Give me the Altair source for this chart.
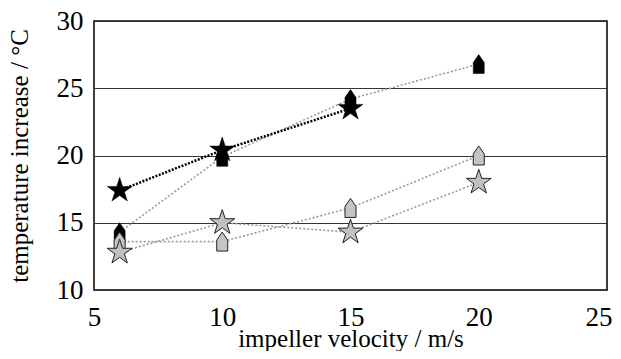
import altair as alt
import pandas as pd

velocity = [6, 10, 15, 20]
black_star = [17.4, 20.4, 23.5]
black_house = [14.3, 19.9, 24.2, 26.8]
gray_house = [13.6, 13.6, 16.1, 20.0]
gray_star = [12.8, 15.0, 14.3, 18.0]

x_ticks = [5, 10, 15, 20, 25]
y_ticks = [10, 15, 20, 25, 30]

STAR = ("M0,-1L0.2245,-0.309L0.951,-0.309L0.363,0.118L0.588,0.809L0,0.382"
        "L-0.588,0.809L-0.363,0.118L-0.951,-0.309L-0.2245,-0.309Z")
HOUSE = "M-0.58,1L0.58,1L0.58,-0.15L0,-1L-0.58,-0.15Z"

FONT = "Liberation Serif"


def frame(vals):
    return pd.DataFrame({"v": velocity[:len(vals)], "t": vals})


x_enc = alt.X(
    "v:Q",
    scale=alt.Scale(domain=[5, 25], nice=False, zero=False),
    axis=alt.Axis(
        values=x_ticks, title="impeller velocity / m/s", grid=False, ticks=False,
        tickSize=0, domain=False, labelPadding=14, titleY=36,
        labelFlush=False,
        labelAlign=alt.ExprRef(expr="datum.value == 25 ? 'right' : 'center'"),
        labelOffset=alt.ExprRef(expr="datum.value == 25 ? 5 : 0"),
        labelFont=FONT, titleFont=FONT, labelFontSize=27, titleFontSize=25,
        titleFontWeight="normal", labelColor="black", titleColor="black",
    ),
)
y_enc = alt.Y(
    "t:Q",
    scale=alt.Scale(domain=[10, 30], nice=False, zero=False),
    axis=alt.Axis(
        values=y_ticks, title="temperature increase / °C", grid=True, ticks=False,
        tickSize=0, domain=False, labelPadding=11, titleX=-62,
        gridColor="#333333", gridWidth=1.2, gridOpacity=1,
        labelFont=FONT, titleFont=FONT, labelFontSize=27, titleFontSize=25,
        titleFontWeight="normal", labelColor="black", titleColor="black",
    ),
)


def line(vals, color, width, dash):
    return alt.Chart(frame(vals)).mark_line(
        color=color, strokeWidth=width, strokeDash=dash
    ).encode(x=x_enc, y=y_enc)


def points(vals, shape, size, fill, stroke, sw):
    return alt.Chart(frame(vals)).mark_point(
        shape=shape, size=size, filled=True, fill=fill, stroke=stroke,
        strokeWidth=sw, opacity=1, fillOpacity=1
    ).encode(x=x_enc, y=y_enc)


gray_line = "#9a9a9a"
chart = alt.layer(
    line(black_house, gray_line, 1.6, [2, 2]),
    line(gray_house, gray_line, 1.6, [2, 2]),
    line(gray_star, gray_line, 1.6, [2, 2]),
    line(black_star, "black", 2.5, [2, 1.5]),
    points(black_house, HOUSE, 361, "black", "black", 0.5),
    points(gray_house, HOUSE, 361, "#c4c4c4", "#222222", 1),
    points(gray_star, STAR, 686, "#c0c0c0", "#222222", 1),
    points(black_star, STAR, 686, "black", "black", 0.5),
).properties(
    width=513, height=269,
    autosize=alt.AutoSizeParams(type="none"),
    padding={"left": 86, "top": 13, "right": 6, "bottom": 61},
).configure(
    font=FONT
).configure_axis(
    labelFont=FONT, titleFont=FONT,
).configure_view(stroke="black", strokeWidth=1.5)

chart.save("out.html", embed_options={"renderer": "svg", "actions": False})
